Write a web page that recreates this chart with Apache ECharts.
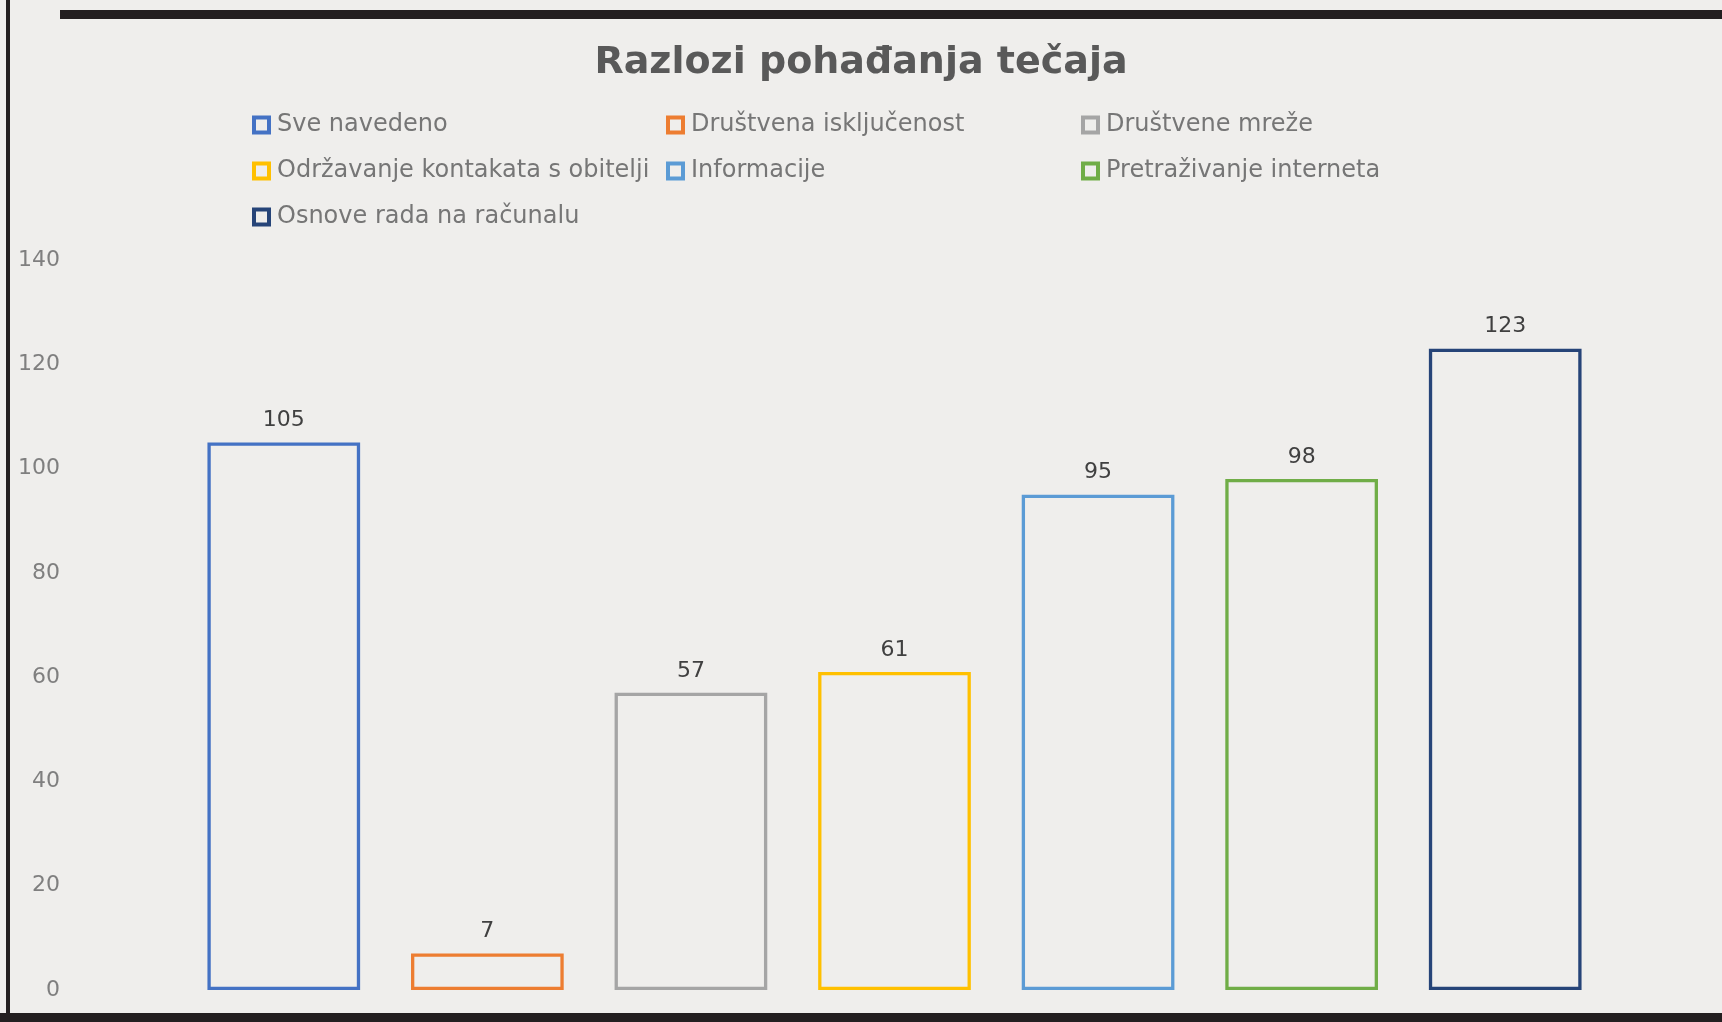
<!DOCTYPE html>
<html>
<head>
<meta charset="utf-8">
<script src="https://cdn.jsdelivr.net/npm/echarts@6/dist/echarts.min.js"></script>
<style>
html,body{margin:0;padding:0;background:#efeeec;}
#c{width:1722px;height:1022px;}
</style>
</head>
<body>
<div id="c"></div>
<script>
const titleText = 'Razlozi pohađanja tečaja';
const seriesNames = ['Sve navedeno','Društvena isključenost','Društvene mreže','Održavanje kontakata s obitelji','Informacije','Pretraživanje interneta','Osnove rada na računalu'];
const values = [105, 7, 57, 61, 95, 98, 123];
const colors = ['#4472C4','#ED7D31','#A5A5A5','#FFC000','#5B9BD5','#70AD47','#264478'];
const categories = ['1','2','3','4','5','6','7'];
const yTicks = {min:0, max:140, interval:20};

const FONT = '"DejaVu Sans", sans-serif';
const chart = echarts.init(document.getElementById('c'), null, {renderer:'canvas'});

const series = seriesNames.map((name, i) => ({
  name: name,
  type: 'bar',
  stack: 'all',
  barCategoryGap: '25%',
  data: categories.map((c, j) => j === i ? values[i] : null),
  itemStyle: { color: 'rgba(0,0,0,0)', borderColor: colors[i], borderWidth: 3.3 },
  label: { show: true, position: 'top', distance: 11, color: '#404040', fontSize: 22, fontFamily: FONT,
           formatter: p => p.value == null ? '' : p.value },
  emphasis: { disabled: true }
}));

const legendCommon = {
  orient: 'vertical', icon: 'rect', itemWidth: 15, itemHeight: 15, itemGap: 22, padding: 0,
  itemStyle: { borderWidth: 4, color: '#efeeec' },
  textStyle: { color: '#767676', fontSize: 24, fontFamily: FONT, padding: [0,0,0,3] },
  selectedMode: false
};

chart.setOption({
  backgroundColor: '#efeeec',
  animation: false,
  title: { text: titleText, left: 'center', top: 39,
    textStyle: { color: '#595959', fontSize: 38, fontWeight: 'bold', fontFamily: FONT } },
  legend: [
    Object.assign({}, legendCommon, { left: 252, top: 113, data: [seriesNames[0], seriesNames[3], seriesNames[6]] }),
    Object.assign({}, legendCommon, { left: 666, top: 113, data: [seriesNames[1], seriesNames[4]] }),
    Object.assign({}, legendCommon, { left: 1081, top: 113, data: [seriesNames[2], seriesNames[5]] })
  ],
  grid: { left: 182, right: 115, top: 260, bottom: 32 },
  xAxis: { type: 'category', data: categories, show: false },
  yAxis: { type: 'value', min: yTicks.min, max: yTicks.max, interval: yTicks.interval,
    axisLine: { show: false }, axisTick: { show: false }, splitLine: { show: false },
    axisLabel: { margin: 122, color: '#7f7f7f', fontSize: 22, fontFamily: FONT } },
  graphic: [
    { type: 'rect', shape: { x: 60, y: 10, width: 1662, height: 9 }, style: { fill: '#231f20' }, silent: true },
    { type: 'rect', shape: { x: 6, y: 0, width: 4, height: 1022 }, style: { fill: '#231f20' }, silent: true },
    { type: 'rect', shape: { x: 0, y: 1013, width: 1722, height: 9 }, style: { fill: '#231f20' }, silent: true }
  ],
  series: series
});
</script>
</body>
</html>
